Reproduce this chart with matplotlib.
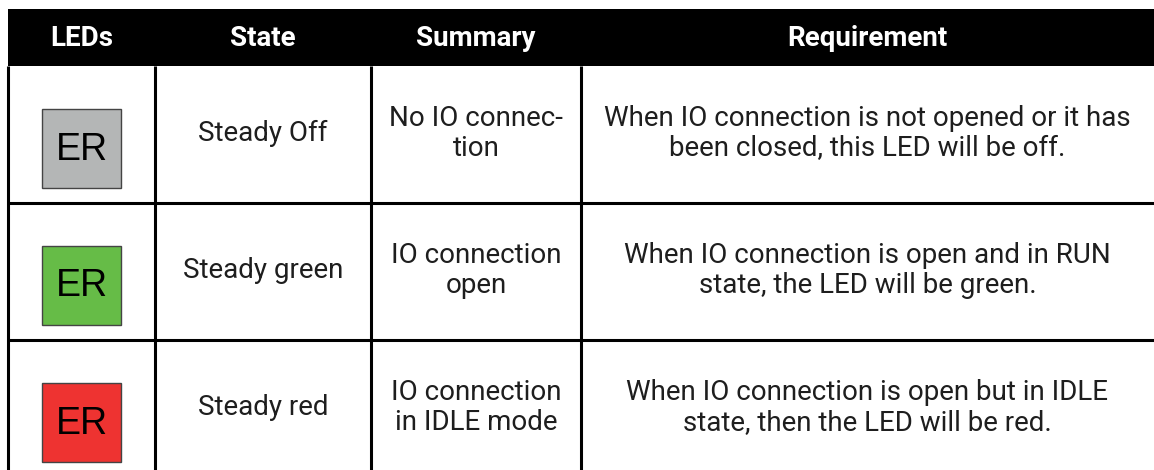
import matplotlib
matplotlib.use("Agg")
import matplotlib.pyplot as plt
from matplotlib.patches import Rectangle

# ── Table content ────────────────────────────────────────────────────────────
headers = ["LEDs", "State", "Summary", "Requirement"]
led_labels = ["ER", "ER", "ER"]
led_colors = ["#b4b6b6", "#66bc47", "#ee3331"]
states = ["Steady Off", "Steady green", "Steady red"]
summaries = ["No IO connec-\ntion", "IO connection\nopen", "IO connection\nin IDLE mode"]
requirements = [
    "When IO connection is not opened or it has\nbeen closed, this LED will be off.",
    "When IO connection is open and in RUN\nstate, the LED will be green.",
    "When IO connection is open but in IDLE\nstate, then the LED will be red.",
]

# ── Layout (pixels) ──────────────────────────────────────────────────────────
W, H = 1154, 470
col_x = [8, 155, 371, 581, 1154]
header_top, header_bot = 9, 66
row_h = 137
body_font = "Roboto"

fig = plt.figure(figsize=(W / 100, H / 100), dpi=100)
ax = fig.add_axes([0, 0, 1, 1])
ax.set_xlim(0, W)
ax.set_ylim(H, 0)
ax.axis("off")

# header band
ax.add_patch(Rectangle((col_x[0], header_top), W - col_x[0], header_bot - header_top,
                       facecolor="black", edgecolor="none"))
for i, h in enumerate(headers):
    cx = (col_x[i] + col_x[i + 1]) / 2
    ax.text(cx, (header_top + header_bot) / 2 + 1, h, color="white", fontsize=20,
            fontweight="bold", family=body_font, ha="center", va="center")

# grid lines
body_bot = header_bot + row_h * 3 + 10
for x in col_x[:-1]:
    ax.plot([x, x], [header_bot, body_bot], color="black", lw=2.2, solid_capstyle="butt")
for r in range(1, 3):
    y = header_bot + r * row_h
    ax.plot([col_x[0], W], [y, y], color="black", lw=2.2, solid_capstyle="butt")

# rows
for r in range(3):
    top = header_bot + r * row_h
    cy = top + row_h / 2 - 1
    # LED box
    bx, by, bs = 42, top + 43, 79
    ax.add_patch(Rectangle((bx, by), bs, bs, facecolor=led_colors[r],
                           edgecolor="#444444", lw=1.0))
    ax.text(bx + bs / 2, by + bs / 2 + 1, led_labels[r], fontsize=27,
            family="Liberation Sans", ha="center", va="center", color="black")
    for i, txt in enumerate([states[r], summaries[r], requirements[r]]):
        cx = (col_x[i + 1] + col_x[i + 2]) / 2
        ax.text(cx, cy, txt, fontsize=20, family=body_font, ha="center",
                va="center", color="#1e1e1e", linespacing=1.15)

fig.savefig("out.png", dpi=100)
